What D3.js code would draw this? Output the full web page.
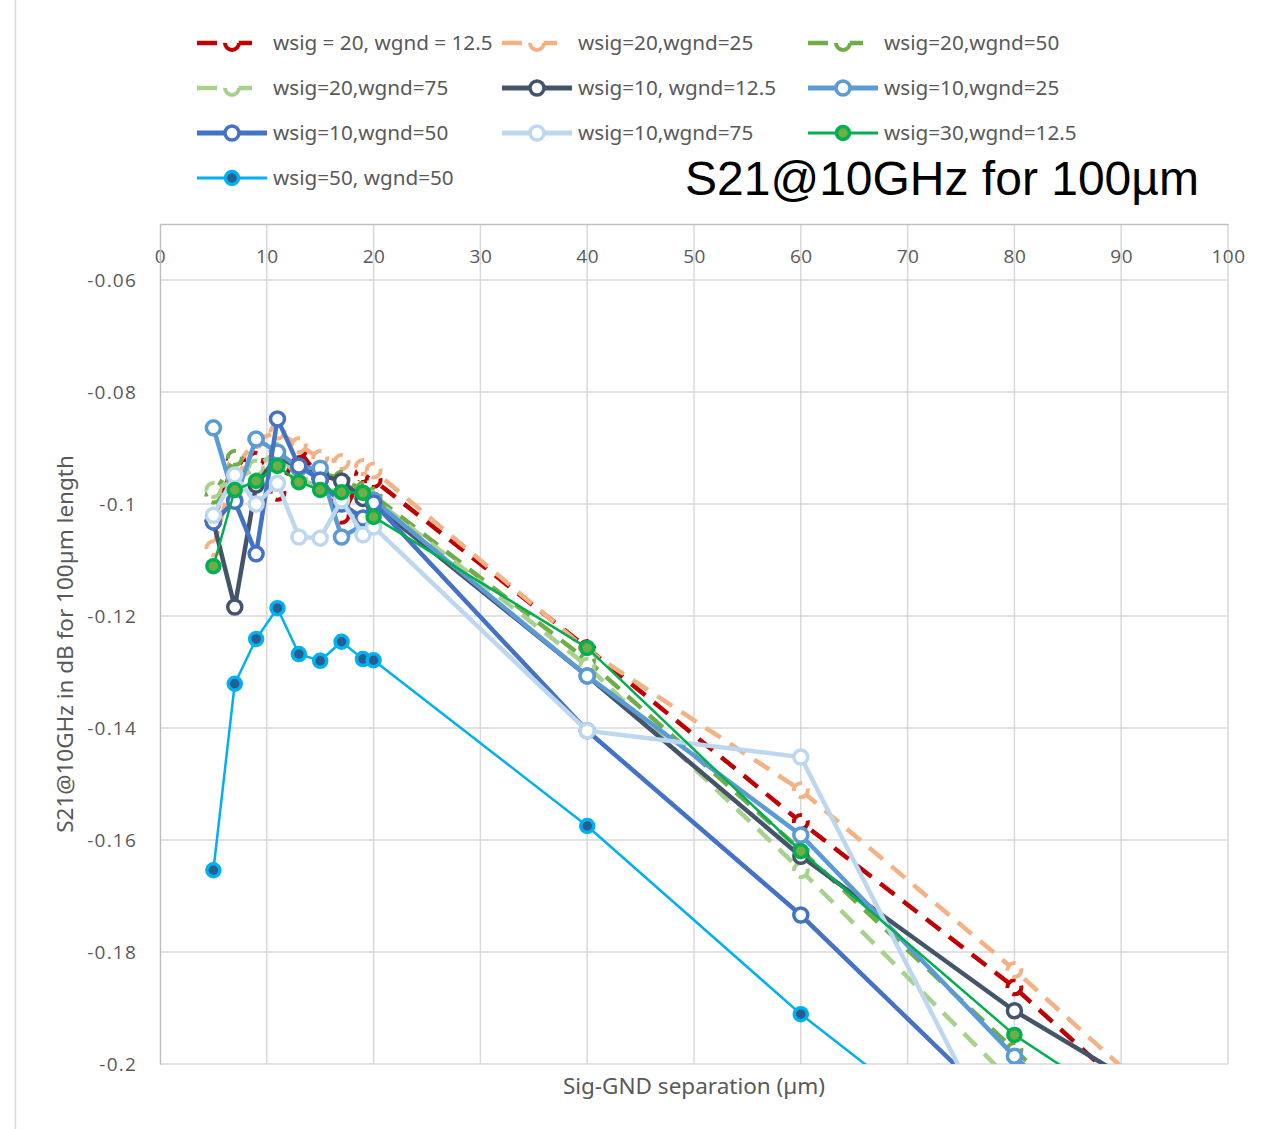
<!DOCTYPE html>
<html>
<head>
<meta charset="utf-8">
<script src="https://cdn.jsdelivr.net/npm/d3@7"></script>
<style>
  body { margin: 0; background: #fff; }
  svg { display: block; }
</style>
</head>
<body>
<svg id="chart"></svg>
<script>
const SVG_WIDTH = 1274;
const SVG_HEIGHT = 1129;
const PLOT_LEFT = 160;
const PLOT_RIGHT = 1228;
const PLOT_TOP = 224;
const PLOT_BOTTOM = 1064;

// separation values (µm)
const separations = [5, 7, 9, 11, 13, 15, 17, 19, 20, 40, 60, 80, 100];
const xTicks = [0, 10, 20, 30, 40, 50, 60, 70, 80, 90, 100];
const yTicks = [-0.06, -0.08, -0.1, -0.12, -0.14, -0.16, -0.18, -0.2];

const seriesNames = [
  "wsig = 20, wgnd = 12.5", "wsig=20,wgnd=25", "wsig=20,wgnd=50",
  "wsig=20,wgnd=75", "wsig=10, wgnd=12.5", "wsig=10,wgnd=25",
  "wsig=10,wgnd=50", "wsig=10,wgnd=75", "wsig=30,wgnd=12.5",
  "wsig=50, wgnd=50"
];

const w20g12 = [-0.1030, -0.0921, -0.0921, -0.0980, -0.0904, -0.0955, -0.1021, -0.0948, -0.0957, -0.1257, -0.1568, -0.1863, -0.2210];
const w20g25 = [-0.1079, -0.0935, -0.0886, -0.0871, -0.0895, -0.0918, -0.0925, -0.0934, -0.0940, -0.1261, -0.1511, -0.1832, -0.2177];
const w20g50 = [-0.0985, -0.0918, -0.0945, -0.0920, -0.0935, -0.0945, -0.0955, -0.0975, -0.0985, -0.1279, -0.1618, -0.1975, -0.2320];
const w20g75 = [-0.0975, -0.0958, -0.0935, -0.0905, -0.0955, -0.0970, -0.0980, -0.0985, -0.0990, -0.1289, -0.1654, -0.2036, -0.2400];
const w10g12 = [-0.1032, -0.1184, -0.0966, -0.0915, -0.0935, -0.0948, -0.0959, -0.0990, -0.1000, -0.1307, -0.1629, -0.1905, -0.2133];
const w10g25 = [-0.0864, -0.0993, -0.0884, -0.0907, -0.0935, -0.0936, -0.1059, -0.1038, -0.0993, -0.1307, -0.1591, -0.1986, -0.2350];
const w10g50 = [-0.1032, -0.0995, -0.1089, -0.0848, -0.0932, -0.0957, -0.1000, -0.1025, -0.0998, -0.1405, -0.1734, -0.2104, -0.2470];
const w10g75 = [-0.1020, -0.0948, -0.1000, -0.0963, -0.1059, -0.1061, -0.0993, -0.1055, -0.1041, -0.1405, -0.1452, -0.2198, -0.2600];
const w30g12 = [-0.1111, -0.0975, -0.0959, -0.0932, -0.0961, -0.0975, -0.0979, -0.0980, -0.1023, -0.1257, -0.1620, -0.1948, -0.2200];
const w50g50 = [-0.1654, -0.1321, -0.1241, -0.1186, -0.1268, -0.1280, -0.1246, -0.1277, -0.1279, -0.1575, -0.1911, -0.2208, -0.2500];

const seriesValues = [w20g12, w20g25, w20g50, w20g75, w10g12, w10g25, w10g50, w10g75, w30g12, w50g50];

// styles per series
const styles = [
  {line: "#C00000", width: 4.5, dash: "18,11", fill: "#fff", r: 7},
  {line: "#F4B183", width: 4.5, dash: "18,11", fill: "#fff", r: 7},
  {line: "#70AD47", width: 4.5, dash: "18,11", fill: "#fff", r: 7},
  {line: "#A9D18E", width: 4.5, dash: "18,11", fill: "#fff", r: 7},
  {line: "#44546A", width: 4.5, dash: null, fill: "#fff", r: 7},
  {line: "#5B9BD5", width: 4.5, dash: null, fill: "#fff", r: 7},
  {line: "#4472C4", width: 4.5, dash: null, fill: "#fff", r: 7},
  {line: "#BDD7EE", width: 4.5, dash: null, fill: "#fff", r: 7},
  {line: "#00B050", width: 2.5, dash: null, fill: "#70AD47", r: 6.5},
  {line: "#00B0F0", width: 2.5, dash: null, fill: "#255E91", r: 6.5}
];

const xScale = d3.scaleLinear().domain([0, 100]).range([PLOT_LEFT, PLOT_RIGHT]);
const yScale = d3.scaleLinear().domain([-0.2, -0.05]).range([PLOT_BOTTOM, PLOT_TOP]);

const svg = d3.select("#chart").attr("width", SVG_WIDTH).attr("height", SVG_HEIGHT);

// chart area border
svg.append("line")
  .attr("x1", 15.5).attr("x2", 15.5).attr("y1", 0).attr("y2", SVG_HEIGHT)
  .attr("stroke", "#D9D9D9").attr("stroke-width", 1.5);

// gridlines
svg.append("g").selectAll("line")
  .data(yTicks)
  .enter().append("line")
  .attr("x1", PLOT_LEFT).attr("x2", PLOT_RIGHT)
  .attr("y1", d => yScale(d)).attr("y2", d => yScale(d))
  .attr("stroke", "#D9D9D9").attr("stroke-width", 1.5);

svg.append("g").selectAll("line")
  .data(xTicks.slice(1))
  .enter().append("line")
  .attr("x1", d => xScale(d)).attr("x2", d => xScale(d))
  .attr("y1", PLOT_TOP).attr("y2", PLOT_BOTTOM)
  .attr("stroke", "#D9D9D9").attr("stroke-width", 1.5);

// X axis on top (axis crosses at the maximum)
const xAxis = d3.axisBottom(xScale).tickValues(xTicks).tickSize(0).tickPadding(26);
const xAxisArea = svg.append("g")
  .attr("transform", "translate(0," + PLOT_TOP + ")")
  .call(xAxis);
xAxisArea.select(".domain").attr("stroke", "#BFBFBF").attr("stroke-width", 1.5);
xAxisArea.selectAll("text")
  .attr("fill", "#595959").style("font-family", "'Open Sans', sans-serif")
  .style("font-size", "19px").style("letter-spacing", "0.5px");

// Y axis
const yAxis = d3.axisLeft(yScale).tickValues(yTicks).tickSize(0).tickPadding(23)
  .tickFormat(d => String(+d.toFixed(2)));
const yAxisArea = svg.append("g")
  .attr("transform", "translate(" + PLOT_LEFT + ",0)")
  .call(yAxis);
yAxisArea.select(".domain").attr("stroke", "#BFBFBF").attr("stroke-width", 1.5);
yAxisArea.selectAll("text")
  .attr("fill", "#595959").style("font-family", "'Open Sans', sans-serif")
  .style("font-size", "19px").style("letter-spacing", "1.2px");

// axis titles
svg.append("text")
  .attr("x", 694).attr("y", 1094)
  .attr("text-anchor", "middle").attr("fill", "#595959")
  .style("font-family", "'Noto Sans', sans-serif").style("font-size", "22.5px")
  .text("Sig-GND separation (µm)");

svg.append("text")
  .attr("transform", "translate(73,644) rotate(-90)")
  .attr("text-anchor", "middle").attr("fill", "#595959")
  .style("font-family", "'Noto Sans', sans-serif").style("font-size", "22.5px")
  .text("S21@10GHz in dB for 100µm length");

// data lines
svg.append("clipPath").attr("id", "plotClip")
  .append("rect")
  .attr("x", PLOT_LEFT).attr("y", PLOT_TOP)
  .attr("width", PLOT_RIGHT - PLOT_LEFT).attr("height", PLOT_BOTTOM - PLOT_TOP);

const dataArea = svg.append("g").attr("clip-path", "url(#plotClip)");
const line = d3.line().x((d, i) => xScale(separations[i])).y(d => yScale(d));

seriesValues.forEach(function(values, k) {
  const s = styles[k];
  const g = dataArea.append("g");
  g.append("path")
    .attr("d", line(values))
    .attr("fill", "none")
    .attr("stroke", s.line)
    .attr("stroke-width", s.width)
    .attr("stroke-dasharray", s.dash)
    .attr("stroke-linejoin", "round");
  g.selectAll("circle")
    .data(values)
    .enter().append("circle")
    .attr("cx", (d, i) => xScale(separations[i]))
    .attr("cy", d => yScale(d))
    .attr("r", s.r)
    .attr("fill", s.fill)
    .attr("stroke", s.line)
    .attr("stroke-width", s.dash ? 4 : 3.5)
    .attr("stroke-dasharray", s.dash ? "13,8" : null);
});

// legend
const legendCols = [197, 502, 808];
const legendRows = [43, 88, 133, 178];
const legend = svg.append("g");
seriesNames.forEach(function(name, k) {
  const s = styles[k];
  const lx = legendCols[k % 3];
  const ly = legendRows[Math.floor(k / 3)];
  const item = legend.append("g").attr("transform", "translate(" + lx + "," + ly + ")");
  item.append("line")
    .attr("x1", 0).attr("x2", 70).attr("y1", 0).attr("y2", 0)
    .attr("stroke", s.line).attr("stroke-width", s.width + (s.dash ? 0 : 0.5))
    .attr("stroke-dasharray", s.dash ? "20,15" : null);
  item.append("circle")
    .attr("cx", 35).attr("cy", 0).attr("r", s.r)
    .attr("fill", s.fill).attr("stroke", s.line)
    .attr("stroke-width", s.dash ? 4 : 3.5)
    .attr("stroke-dasharray", s.dash ? "22,22" : null);
  item.append("text")
    .attr("x", 76).attr("y", 7)
    .attr("fill", "#595959")
    .style("font-family", "'Noto Sans', sans-serif").style("font-size", "20.7px")
    .text(name);
});

// chart title
svg.append("text")
  .attr("x", 685).attr("y", 195)
  .attr("fill", "#000")
  .style("font-family", "'Liberation Sans', Arial, sans-serif").style("font-size", "48px")
  .text("S21@10GHz for 100µm");
</script>
</body>
</html>
